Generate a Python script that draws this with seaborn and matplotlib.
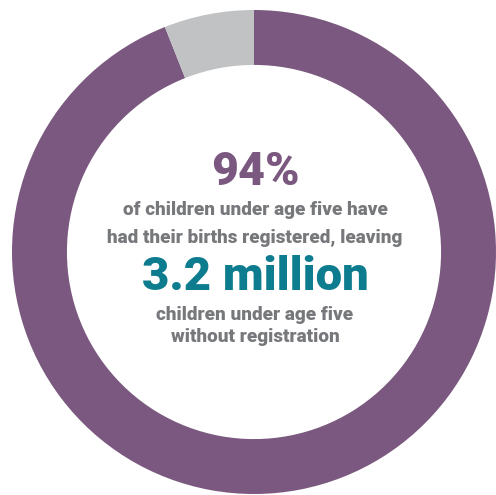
import matplotlib
matplotlib.use("Agg")
import matplotlib.pyplot as plt
import seaborn as sns

# Share of children under five with registered births
segments = ["Registered", "Not registered"]
shares = [94, 6]
colors = ["#7B587F", "#C1C2C4"]

headline = "94%"
line1 = "of children under age five have"
line2 = "had their births registered, leaving"
count_text = "3.2 million"
line3 = "children under age five"
line4 = "without registration"

sns.set_theme(style="white")
plt.rcParams["font.family"] = ["Roboto", "DejaVu Sans"]

fig = plt.figure(figsize=(4.96, 4.95), dpi=100)
ax = fig.add_axes([0, 0, 1, 1])

ax.pie(shares, colors=colors, startangle=90, counterclock=False, radius=1.0,
       wedgeprops=dict(width=0.227, edgecolor="none"))

ax.set_xlim(-1.0496, 1.0)
ax.set_ylim(-1.0041, 1.0413)
ax.set_aspect("auto")
ax.axis("off")

def ypos(px):
    return (252 - px) / 242.0

def xpos(px):
    return (px - 254) / 242.0

grey = "#77787B"
small = 13.6
ax.text(xpos(255), ypos(172), headline, ha="center", va="center",
        fontsize=33.5, fontweight=900, color="#7B587F")
ax.text(xpos(255), ypos(210), line1, ha="center", va="center",
        fontsize=small, fontweight=900, color=grey)
ax.text(xpos(255), ypos(238), line2, ha="center", va="center",
        fontsize=small, fontweight=900, color=grey)
ax.text(xpos(255), ypos(277), count_text, ha="center", va="center",
        fontsize=34, fontweight=900, color="#0E7C8F")
ax.text(xpos(255), ypos(315), line3, ha="center", va="center",
        fontsize=small, fontweight=900, color=grey)
ax.text(xpos(255), ypos(337), line4, ha="center", va="center",
        fontsize=small, fontweight=900, color=grey)

fig.savefig("out.png", dpi=100)
